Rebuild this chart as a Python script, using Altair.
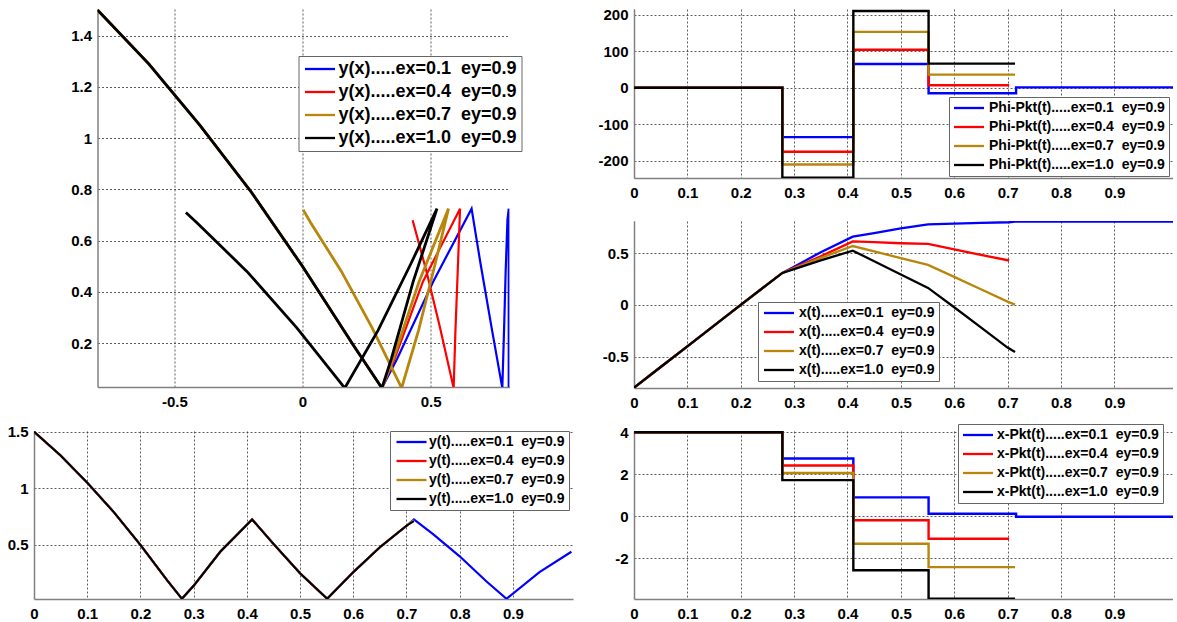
import altair as alt
import pandas as pd

FONT = "Liberation Sans"
NB = "\u00a0"
EX = ["0.1", "0.4", "0.7", "1.0"]
COLORS = ["#0000FF", "#FF0000", "#B8860B", "#000000"]

# ---------------- trajectory data (t, x(t), y(t)) per series ----------------
T_BLUE = [0, 0.05, 0.10, 0.15, 0.20, 0.25, 0.278, 0.30, 0.35, 0.41, 0.45, 0.50, 0.551,
          0.60, 0.65, 0.703, 0.714, 0.75, 0.80, 0.85, 0.888, 0.95, 1.01]
Y_BLUE = [1.50, 1.29, 1.05, 0.79, 0.50, 0.19, 0.025, 0.14, 0.44, 0.725, 0.51, 0.25, 0.025,
          0.26, 0.48, 0.68, 0.725, 0.595, 0.40, 0.18, 0.025, 0.26, 0.44]
X_BLUE = [-0.80, -0.60, -0.40, -0.20, 0.00, 0.20, 0.31, 0.37, 0.51, 0.66, 0.695, 0.74, 0.78,
          0.787, 0.793, 0.80, 0.805, 0.805, 0.805, 0.805, 0.805, 0.805, 0.805]

T_RED = [0, 0.05, 0.10, 0.15, 0.20, 0.25, 0.278, 0.30, 0.35, 0.41, 0.45, 0.50, 0.551,
         0.60, 0.65, 0.703]
Y_RED = [1.50, 1.29, 1.05, 0.79, 0.50, 0.19, 0.025, 0.14, 0.44, 0.725, 0.51, 0.25, 0.025,
         0.26, 0.48, 0.68]
X_RED = [-0.80, -0.60, -0.40, -0.20, 0.00, 0.20, 0.31, 0.36, 0.47, 0.615, 0.607, 0.597, 0.59,
         0.537, 0.484, 0.43]

T_GOLD = [0, 0.05, 0.10, 0.15, 0.20, 0.25, 0.278, 0.30, 0.35, 0.41, 0.45, 0.50, 0.551,
          0.60, 0.65, 0.70, 0.714]
Y_GOLD = [1.50, 1.29, 1.05, 0.79, 0.50, 0.19, 0.025, 0.14, 0.44, 0.725, 0.51, 0.25, 0.025,
          0.26, 0.48, 0.67, 0.72]
X_GOLD = [-0.80, -0.60, -0.40, -0.20, 0.00, 0.20, 0.31, 0.355, 0.455, 0.57, 0.518, 0.453, 0.387,
          0.272, 0.152, 0.032, 0.003]

T_BLACK = [0, 0.05, 0.10, 0.15, 0.20, 0.25, 0.278, 0.30, 0.35, 0.41, 0.45, 0.50, 0.551,
           0.60, 0.65, 0.70, 0.714]
Y_BLACK = [1.50, 1.29, 1.05, 0.79, 0.50, 0.19, 0.025, 0.14, 0.44, 0.725, 0.51, 0.25, 0.025,
           0.26, 0.48, 0.67, 0.71]
X_BLACK = [-0.80, -0.60, -0.40, -0.20, 0.00, 0.20, 0.31, 0.347, 0.432, 0.525, 0.423, 0.295, 0.165,
           -0.022, -0.217, -0.412, -0.455]

# ---------------- step data: Phi-Pkt(t) ----------------
TP_BLUE = [0, 0.278, 0.411, 0.552, 0.716, 1.01]
PHI_BLUE = [0, -135, 65, -15, 1, 1]
TP_RED = [0, 0.278, 0.411, 0.552, 0.703]
PHI_RED = [0, -175, 104, 7, 7]
TP_GOLD = [0, 0.278, 0.411, 0.552, 0.714]
PHI_GOLD = [0, -210, 153, 36, 36]
TP_BLACK = [0, 0.278, 0.411, 0.552, 0.714]
PHI_BLACK = [0, -246, 210, 66, 66]

# ---------------- step data: x-Pkt(t) ----------------
XP_BLUE = [4, 2.75, 0.9, 0.12, -0.02, -0.02]
XP_RED = [4, 2.42, -0.19, -1.07, -1.07]
XP_GOLD = [4, 2.06, -1.31, -2.42, -2.42]
XP_BLACK = [4, 1.72, -2.57, -3.92, -3.92]


def labels(prefix):
    return [f"{prefix}.....ex={e}{NB}{NB}ey=0.9" for e in EX]


def frame(ts, xs, ys, labs):
    rows = []
    for tt, xx, yy, lab in zip(ts, xs, ys, labs):
        for a, b, c in zip(tt, xx, yy):
            rows.append({"t": a, "xv": b, "yv": c, "s": lab})
    return pd.DataFrame(rows)


def axis(values, pad):
    return alt.Axis(values=values, title=None, grid=True, gridDash=[2, 2], gridColor="#333333",
                    gridWidth=0.8, gridOpacity=1, ticks=False, tickSize=0,
                    domainColor="#808080", domainWidth=1.5,
                    labelFont=FONT, labelFontSize=15, labelFontWeight="bold", labelColor="black",
                    labelPadding=pad, labelExpr="'' + datum.value", labelFlush=False,
                    labelOverlap=False)


def legend(x, y, font, sym_off, lab_off, pad, rowpad):
    return alt.Legend(title=None, orient="none", legendX=x, legendY=y,
                      symbolType="M-3,0H3", symbolSize=100, symbolStrokeWidth=2.3,
                      labelFont=FONT, labelFontSize=font, labelFontWeight="bold",
                      labelColor="black", labelLimit=500,
                      strokeColor="#666666", fillColor="white", padding=pad,
                      rowPadding=rowpad, symbolOffset=sym_off, labelOffset=lab_off)


def panel(df, labs, xdom, ydom, xvals, yvals, leg, width, height, interp="linear", sws=None):
    if sws is None:
        sws = [2.0, 2.0, 2.0, 2.0]
    layers = []
    for lab, sw in zip(labs, sws):
        layers.append(
            alt.Chart(df[df["s"] == lab]).mark_line(clip=True, strokeWidth=sw, interpolate=interp)
            .encode(
                x=alt.X("xv:Q", scale=alt.Scale(domain=xdom, nice=False, zero=False),
                        axis=axis(xvals, 7)),
                y=alt.Y("yv:Q", scale=alt.Scale(domain=ydom, nice=False, zero=False),
                        axis=axis(yvals, 6)),
                color=alt.Color("s:N", scale=alt.Scale(domain=labs, range=COLORS), legend=leg),
                order=alt.Order("t:Q"),
            )
        )
    return alt.layer(*layers).properties(width=width, height=height)


TX = [0, 0.1, 0.2, 0.3, 0.4, 0.5, 0.6, 0.7, 0.8, 0.9]

# y(x)
lab_yx = labels("y(x)")
df_yx = frame([T_BLUE, T_RED, T_GOLD, T_BLACK], [X_BLUE, X_RED, X_GOLD, X_BLACK],
              [Y_BLUE, Y_RED, Y_GOLD, Y_BLACK], lab_yx)
p_yx = panel(df_yx, lab_yx, [-0.8, 0.808], [0.029, 1.504], [-0.5, 0, 0.5],
             [0.2, 0.4, 0.6, 0.8, 1, 1.2, 1.4],
             legend(201, 47, 18, 8.5, 9.5, 4, 5), 412, 378, sws=[2.2, 2.2, 2.8, 2.8])

# y(t)
lab_yt = labels("y(t)")
df_yt = frame([T_BLUE, T_RED, T_GOLD, T_BLACK], [T_BLUE, T_RED, T_GOLD, T_BLACK],
              [Y_BLUE, Y_RED, Y_GOLD, Y_BLACK], lab_yt)
p_yt = panel(df_yt, lab_yt, [0, 1.013], [0.023, 1.506], TX, [0.5, 1, 1.5],
             legend(356, 0, 14, 10.5, 10.5, 4, 5), 539, 168, sws=[2.2, 2.0, 2.0, 2.0])

# Phi-Pkt(t)
lab_phi = labels("Phi-Pkt(t)")
df_phi = frame([TP_BLUE, TP_RED, TP_GOLD, TP_BLACK], [TP_BLUE, TP_RED, TP_GOLD, TP_BLACK],
               [PHI_BLUE, PHI_RED, PHI_GOLD, PHI_BLACK], lab_phi)
p_phi = panel(df_phi, lab_phi, [0, 1.01], [-247, 215.6], TX, [-200, -100, 0, 100, 200],
              legend(315, 88, 14, 9, 13, 4, 5), 539, 169, interp="step-after",
              sws=[2.4, 2.4, 2.4, 2.4])

# x(t)
lab_xt = labels("x(t)")
df_xt = frame([T_BLUE, T_RED, T_GOLD, T_BLACK], [T_BLUE, T_RED, T_GOLD, T_BLACK],
              [X_BLUE, X_RED, X_GOLD, X_BLACK], lab_xt)
p_xt = panel(df_xt, lab_xt, [0, 1.01], [-0.803, 0.812], TX, [-0.5, 0, 0.5],
             legend(124, 81, 14, 10, 13, 4, 5), 539, 167, sws=[2.3, 2.3, 2.3, 2.3])

# x-Pkt(t)
lab_xp = labels("x-Pkt(t)")
df_xp = frame([TP_BLUE, TP_RED, TP_GOLD, TP_BLACK], [TP_BLUE, TP_RED, TP_GOLD, TP_BLACK],
              [XP_BLUE, XP_RED, XP_GOLD, XP_BLACK], lab_xp)
p_xp = panel(df_xp, lab_xp, [0, 1.01], [-3.94, 4.06], TX, [-2, 0, 2, 4],
             legend(324, -7, 14, 9, 12, 4, 5), 539, 168, interp="step-after",
             sws=[2.4, 2.4, 2.4, 2.4])

left = alt.vconcat(p_yx, p_yt, spacing=44, center=True, bounds="flush") \
    .resolve_scale(color="independent").resolve_legend(color="independent")
right = alt.vconcat(p_phi, p_xt, p_xp, spacing=43, bounds="flush") \
    .resolve_scale(color="independent").resolve_legend(color="independent")

chart = alt.hconcat(left, right, spacing=24) \
    .resolve_scale(color="independent").resolve_legend(color="independent") \
    .properties(padding={"left": 7, "top": 7, "right": 0, "bottom": 0}, background="white") \
    .configure_view(stroke=None)

chart.save("out.html", embed_options={"renderer": "svg", "actions": False})
